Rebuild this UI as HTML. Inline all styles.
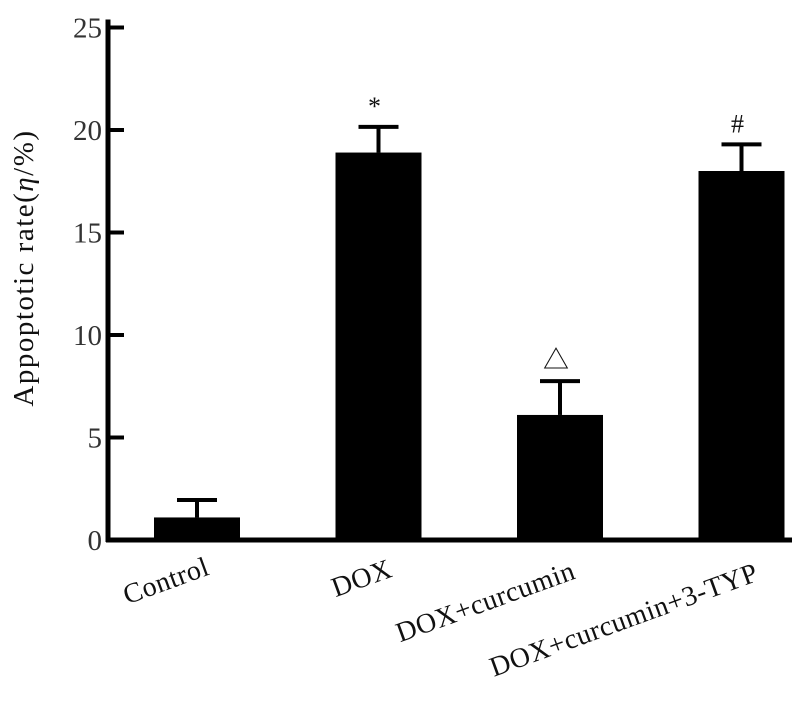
<!DOCTYPE html>
<html><head><meta charset="utf-8"><style>
html,body{margin:0;padding:0;background:#fff;}
svg{display:block;font-family:"Liberation Serif","Noto Serif CJK SC",serif;}
</style></head><body>
<svg id="chart" width="804" height="712" viewBox="0 0 804 712" xmlns="http://www.w3.org/2000/svg">
<g id="bars"></g>
<g id="axes"></g>
<text transform="translate(33,268) rotate(-90)" text-anchor="middle" font-size="29" letter-spacing="1.5" fill="#111">Appoptotic rate(<tspan font-style="italic">η</tspan>/%)</text>
</svg>
<script>
const categories = ["Control","DOX","DOX+curcumin","DOX+curcumin+3-TYP"];
const values = [1.1, 18.9, 6.1, 18.0];
const errors = [0.85, 1.25, 1.65, 1.3];
const marks = ["", "*", "△", "#"];
const yTicks = [0,5,10,15,20,25];

const NS="http://www.w3.org/2000/svg";
const y0=540, pxPerUnit=20.5, axisX=108;
function yScale(v){return y0 - v*pxPerUnit;}
function xCenter(i){return 197 + i*181.5;}
const barW=86;
function mk(tag,attrs,parent){const e=document.createElementNS(NS,tag);for(const k in attrs)e.setAttribute(k,attrs[k]);parent.appendChild(e);return e;}
const bars=document.getElementById('bars'), axes=document.getElementById('axes');

categories.forEach((c,i)=>{
  const cx=xCenter(i), top=yScale(values[i]), et=yScale(values[i]+errors[i]);
  const r=mk('rect',{x:cx-barW/2,y:top,width:barW,height:y0-top,fill:'#000'},bars);
  
  
  const l=mk('line',{x1:cx,x2:cx,y1:top,y2:et,stroke:'#000','stroke-width':4},bars);
  
  
  const cap=mk('line',{x1:cx-20,x2:cx+20,y1:et,y2:et,stroke:'#000','stroke-width':4},bars);
  
  
  if(marks[i]){
    const t=mk('text',{x:cx-4,y:et-12,'text-anchor':'middle','font-size':26,fill:'#111'},bars);
    t.textContent=marks[i];
    
    
  }
  const lab=mk('text',{transform:`translate(${cx+14+i*1.5},${574+i*2}) rotate(-20)`,'text-anchor':'end','font-size':28,'letter-spacing':0.5,fill:'#111'},axes);
  lab.textContent=c;
  
  
});

const ya=mk('line',{x1:axisX,x2:axisX,y1:yScale(25)-8,y2:y0+2,stroke:'#000','stroke-width':5},axes);


const xa=mk('line',{x1:axisX-2,x2:792,y1:y0,y2:y0,stroke:'#000','stroke-width':5},axes);


yTicks.forEach(v=>{
  const y=yScale(v);
  const t=mk('line',{x1:axisX,x2:124,y1:y,y2:y,stroke:'#000','stroke-width':4},axes);
  
  
  const tl=mk('text',{x:102,y:y+10,'text-anchor':'end','font-size':29,fill:'#333'},axes);
  tl.textContent=v;
  
  
});
</script>
</body></html>
